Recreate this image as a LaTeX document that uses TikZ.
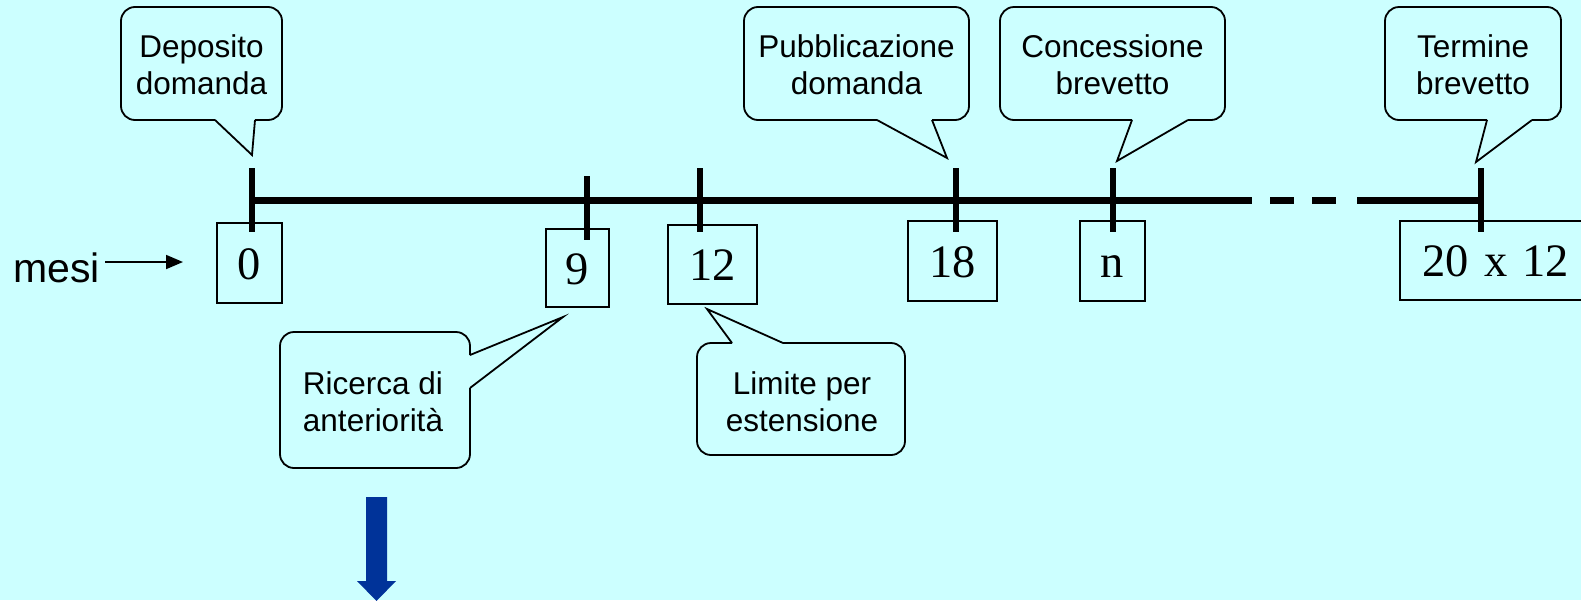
\documentclass[tikz,border=0pt]{standalone}
\usepackage{fontspec}
\setmainfont{Liberation Serif}
\newfontfamily\arialf{Liberation Sans}
\usetikzlibrary{arrows.meta}
\definecolor{bgc}{RGB}{204,255,255}
\definecolor{blu}{RGB}{0,51,153}
\newcommand\calldown[7]{% L T R B a b tip
  \draw[cl,rounded corners=14pt] (#5,#4) -- (#1,#4) -- (#1,#2) -- (#3,#2) -- (#3,#4) -- (#6,#4);
  \draw[cl] (#5,#4) -- (#7) -- (#6,#4);}
\begin{document}
\begin{tikzpicture}[x=1pt,y=-1pt,
  cl/.style={draw=black,line width=1.8pt,line join=miter},
  ctext/.style={font=\arialf\fontsize{31.5}{37}\selectfont,align=center,inner sep=0pt},
  numbox/.style={draw=black,line width=1.8pt,font=\fontsize{46.5}{50}\selectfont,inner sep=0pt,
                 minimum height=80pt,text height=32pt,text depth=0pt},
  tline/.style={line width=7pt},
  tickmark/.style={line width=6pt}]
\useasboundingbox (0,0) rectangle (1581,600);
\clip (0,0) rectangle (1581,600);
\fill[bgc] (0,0) rectangle (1581,600);

% tips of the callouts
\coordinate (tipA) at (252,155);
\coordinate (tipB) at (947,158);
\coordinate (tipC) at (1117,161);
\coordinate (tipD) at (1476,162);
\coordinate (tipE) at (563,317);
\coordinate (tipF) at (707,309);

% top callouts
\node[ctext] (dep) at (201.5,65) {Deposito\\domanda};
\calldown{121}{7}{282}{120}{215}{255}{tipA}
\node[ctext] (pub) at (856.5,65) {Pubblicazione\\domanda};
\calldown{744}{7}{969}{120}{877}{932}{tipB}
\node[ctext] (con) at (1112.5,65) {Concessione\\brevetto};
\calldown{1000}{7}{1225}{120}{1132}{1188}{tipC}
\node[ctext] (ter) at (1473,65) {Termine\\brevetto};
\calldown{1385}{7}{1561}{120}{1487}{1532}{tipD}

% bottom callouts
\node[ctext] (ric) at (373,402) {Ricerca di\\anteriorità};
\draw[cl,rounded corners=14pt] (470,388) -- (470,468) -- (280,468) -- (280,332) -- (470,332) -- (470,355);
\draw[cl] (470,355) -- (tipE) -- (470,388);
\node[ctext] (lim) at (802,402) {Limite per\\estensione};
\draw[cl,rounded corners=14pt] (783,343) -- (905,343) -- (905,455) -- (697,455) -- (697,343) -- (732,343);
\draw[cl] (732,343) -- (tipF) -- (783,343);

% number boxes
\node[numbox,minimum width=65pt] (n0) at (249.5,263) {0};
\node[numbox,minimum width=63pt,minimum height=78pt] (n9) at (577.5,268) {9};
\node[numbox,minimum width=89pt,minimum height=79pt] (n12) at (712.5,264.5) {12};
\node[numbox,minimum width=89pt] (n18) at (952.5,261) {18};
\node[numbox,minimum width=65pt] (nn) at (1112.5,261) {n};
\node[numbox,minimum width=200pt,minimum height=79pt,text width=200pt,align=left] (n240) at (1500,260.5) {\hspace*{22pt}20 x 12};

% timeline
\coordinate (t0) at (252,200);
\coordinate (tE) at (1481,200);
\coordinate (s1) at (1252,200);
\coordinate (s2) at (1357,200);
\draw[tline] (t0) -- (s1);
\draw[tline] (1270,200) -- (1294,200);
\draw[tline] (1312,200) -- (1336,200);
\draw[tline] (s2) -- (tE);

% ticks
\draw[tickmark] (252,168) -- (252,232);
\draw[tickmark] (587,176) -- (587,240);
\draw[tickmark] (700,168) -- (700,232);
\draw[tickmark] (956,168) -- (956,232);
\draw[tickmark] (1113,168) -- (1113,232);
\draw[tickmark] (1481,168) -- (1481,232);

% mesi
\node[font=\arialf\fontsize{41}{45}\selectfont,anchor=base west,inner sep=0pt] (mesi) at (13,282) {mesi};
\coordinate (mesiend) at (183,262);
\draw[line width=1.8pt,-{Triangle[length=17pt,width=14pt]}] (105,262) -- (mesiend);

% blue arrow
\fill[blu] (366,497) -- (387,497) -- (387,581) -- (396,581) -- (376.5,601) -- (357,581) -- (366,581) -- cycle;
\end{tikzpicture}
\end{document}
